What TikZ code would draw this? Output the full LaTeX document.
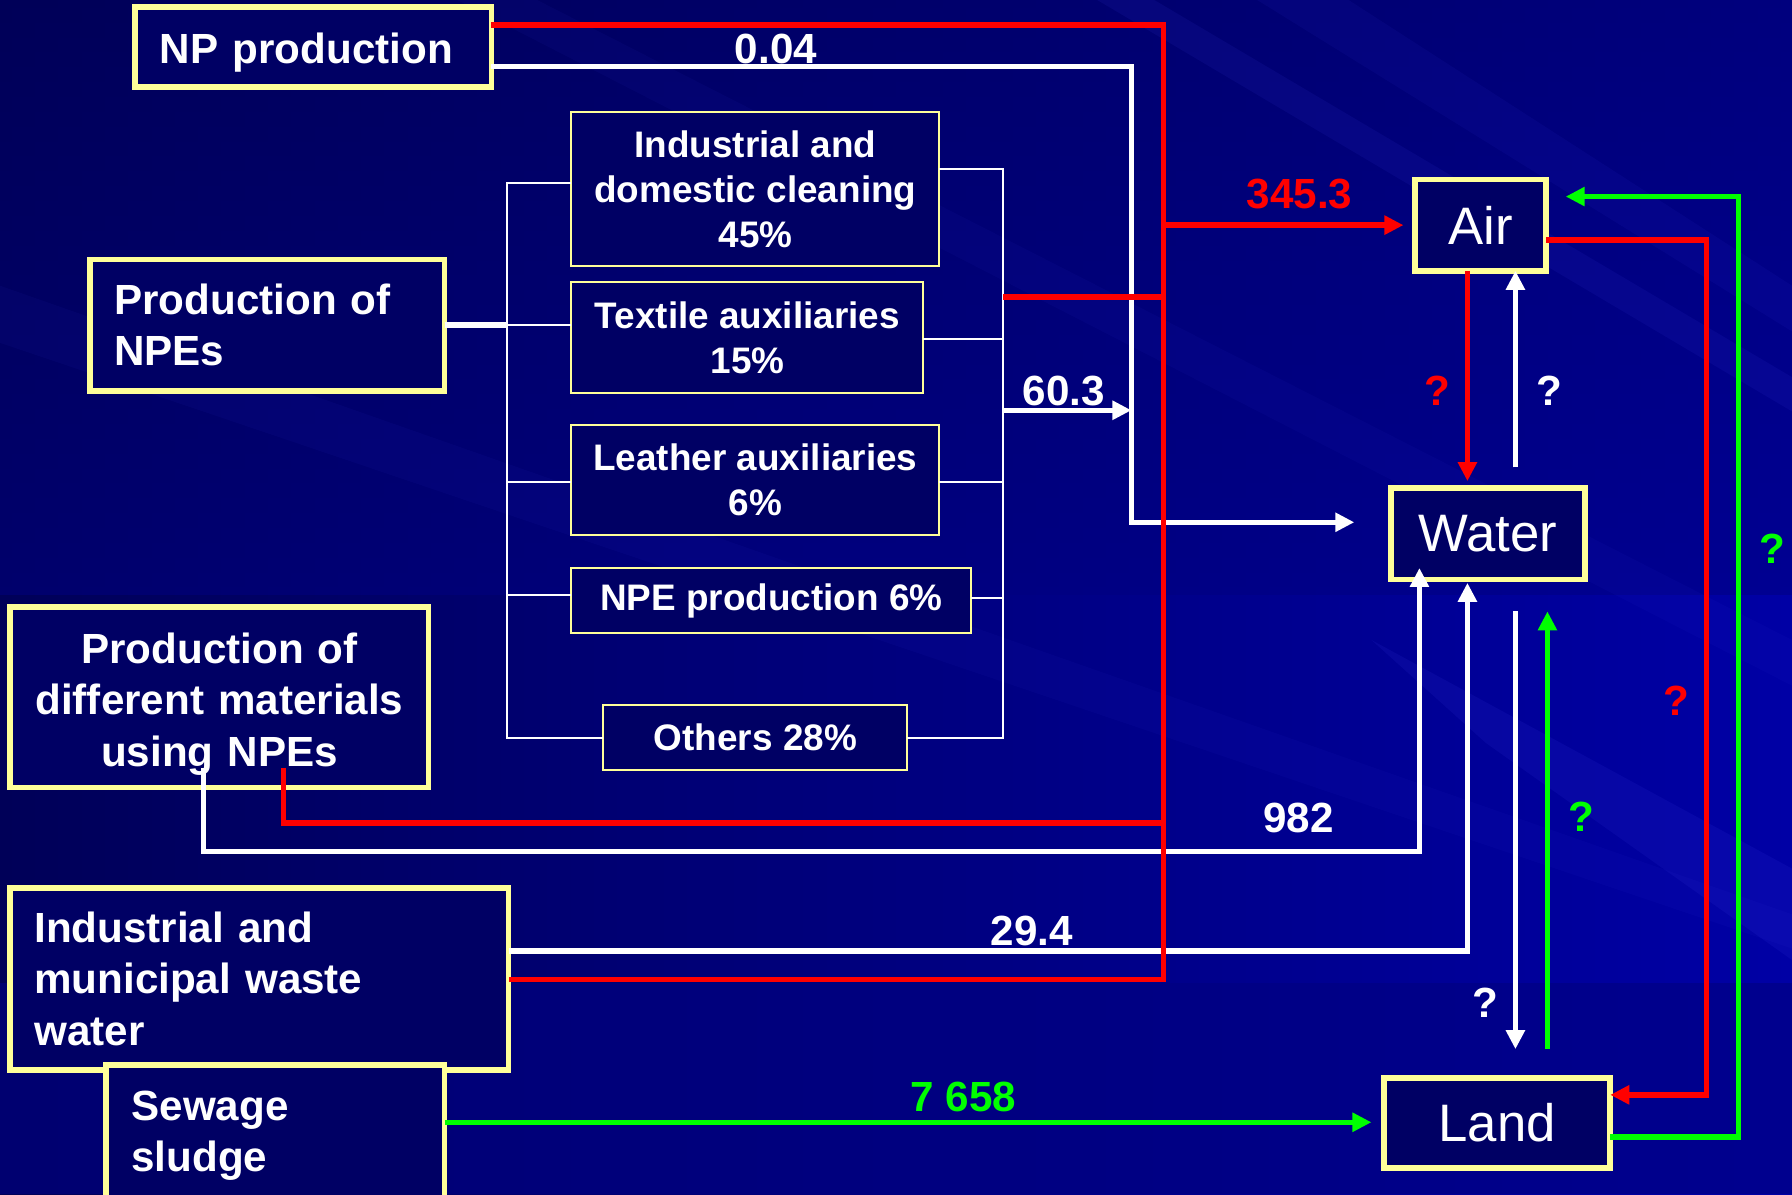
\documentclass[tikz,border=0pt]{standalone}
\usepackage{fontspec}
\setmainfont{Liberation Sans}
\usetikzlibrary{arrows.meta}

\definecolor{bgdark}{RGB}{0,0,88}
\definecolor{bgmid}{RGB}{0,0,128}
\definecolor{bglight}{RGB}{0,0,165}
\definecolor{streak}{RGB}{60,60,230}
\definecolor{boxedge}{RGB}{255,255,153}
\definecolor{boxfill}{RGB}{0,0,100}
\definecolor{flowred}{RGB}{255,0,0}
\definecolor{flowgreen}{RGB}{0,255,0}

\tikzset{
  mainbox/.style={draw=boxedge, line width=1.6pt, fill=boxfill, text=white,
    font=\bfseries\fontsize{12}{14.6}\selectfont, inner ysep=0pt, outer sep=0pt},
  subbox/.style={draw=boxedge, line width=0.55pt, fill=boxfill, text=white,
    font=\bfseries\fontsize{10.5}{12.85}\selectfont, align=center, inner sep=0pt, outer sep=0pt},
  compartment/.style={draw=boxedge, line width=1.6pt, fill=boxfill, text=white,
    font=\fontsize{15}{18}\selectfont, inner sep=0pt, outer sep=0pt},
  flow/.style={line width=1.55pt},
  tie/.style={white, line width=0.6pt},
  tip/.style={-{Triangle[length=5.4pt,width=5.2pt]}},
  lbl/.style={font=\bfseries\fontsize{12}{14}\selectfont, inner sep=0pt},
}

\begin{document}
\begin{tikzpicture}[x=0.0114286cm, y=-0.0114286cm]
  % backdrop
  \clip (0,0) rectangle (1568,1045);
  \useasboundingbox (0,0) rectangle (1568,1045);
  \shade[left color=bgdark, right color=bglight] (0,0) rectangle (1568,1045);
  \shade[top color=bgdark, bottom color=bgmid, opacity=0.5] (0,0) rectangle (1568,520);
  \fill[bgmid, opacity=0.6] (0,860) rectangle (1568,1045);
  \begin{scope}[fill=streak]
    \fill[opacity=0.10] (960,0) -- (1010,0) -- (1568,330) -- (1568,360) -- cycle;
    \fill[opacity=0.08] (1100,0) -- (1180,0) -- (1568,250) -- (1568,290) -- cycle;
    \fill[opacity=0.12] (1200,560) -- (1568,760) -- (1568,840) -- (1300,650) -- cycle;
    \fill[opacity=0.06] (0,250) -- (0,300) -- (1568,830) -- (1568,800) -- cycle;
    \fill[opacity=0.06] (400,0) -- (470,0) -- (1568,560) -- (1568,600) -- cycle;
  \end{scope}

  % source boxes
  \node[mainbox, anchor=center, text width=3.063cm, inner xsep=0.2514cm, minimum height=0.8cm,
        align=left, text height=12pt]
    (np) at (274,41) {NP production};
  \node[mainbox, anchor=center, text width=3.063cm, inner xsep=0.24cm, minimum height=1.3143cm, align=left]
    (npes) at (234,284.5) {Production of\\NPEs};
  \node[mainbox, anchor=center, text width=4.1829cm, minimum height=1.8057cm, inner xsep=0pt,
        align=center, text height=12.6pt]
    (mat) at (192,610) {Production of\\different materials\\using NPEs};
  \node[mainbox, anchor=center, text width=4.5029cm, inner xsep=0.24cm, minimum height=1.8171cm, align=left]
    (ww) at (227,856.5) {Industrial and\\municipal waste\\water};
  \node[mainbox, anchor=center, text width=2.88cm, inner xsep=0.2514cm, minimum height=1.3371cm,
        align=left, text height=10.4pt]
    (sludge) at (241,990.5) {Sewage\\sludge};

  % uses of NPEs
  \node[subbox, minimum width=3.68cm, minimum height=1.5429cm] (cl) at (661,165.5)
    {Industrial and\\domestic cleaning\\45\%};
  \node[subbox, minimum width=3.52cm, minimum height=1.1086cm] (tex) at (654,295.5)
    {Textile auxiliaries\\15\%};
  \node[subbox, minimum width=3.68cm, minimum height=1.0971cm] (lea) at (661,420)
    {Leather auxiliaries\\6\%};
  \node[subbox, minimum width=4.0cm, minimum height=0.6514cm] (npe) at (675,525.5)
    {NPE production 6\%};
  \node[subbox, minimum width=3.04cm, minimum height=0.6514cm] (oth) at (661,645.5)
    {Others 28\%};

  % environmental compartments
  \node[compartment, minimum width=1.3143cm, minimum height=0.9143cm] (air) at (1295.5,197) {Air};
  \node[compartment, minimum width=1.9429cm, minimum height=0.9143cm] (water) at (1302,467) {Water};
  \node[compartment, minimum width=2.2629cm, minimum height=0.9029cm] (land) at (1310,982.5) {Land};

  % bracket joining the uses
  \coordinate (lb) at (444,0);
  \coordinate (rb) at (878,0);
  \draw[white, flow] (npes.east) -- (npes.east -| lb);
  \draw[tie] (cl.west |- 0,160) -| (444,646) -- (oth.west |- 0,646);
  \draw[tie] (npes.east -| lb) -- (npes.east -| tex.west);
  \draw[tie] (444,422) -- (lea.west |- 0,422);
  \draw[tie] (444,521) -- (npe.west |- 0,521);
  \draw[tie] (cl.east |- 0,148) -| (878,646) -- (oth.east |- 0,646);
  \draw[tie] (tex.east |- 0,297) -- (878,297);
  \draw[tie] (lea.east |- 0,422) -- (878,422);
  \draw[tie] (npe.east |- 0,523) -- (878,523);

  % white flows
  \coordinate (matw) at (178,672);
  \coordinate (matr) at (248,672);
  \draw[white, flow, tip] (878,359) -- (990,359);
  \draw[white, flow, tip, shorten >=0.3657cm] (np.east |- 0,58) -| (990,457) -- (water.west |- 0,457);
  \draw[white, flow, tip] (matw) |- (1242,745) -- (water.south -| 1242,0) -- ++(0,-10);
  \draw[white, flow, tip] (ww.east |- 0,832) -| (1284,510);
  \draw[white, flow, tip] (1326,409) -- (air.south -| 1326,0);
  \draw[white, flow, tip] (1326,535) -- (1326,918);

  % red flows
  \draw[flowred, flow] (np.east |- 0,22) -- (1018,22) -- (1018,857) -- (ww.east |- 0,857);
  \draw[flowred, flow] (878,260) -- (1018,260);
  \draw[flowred, flow] (matr) |- (1018,720);
  \draw[flowred, flow, tip, shorten >=0.1143cm] (1018,197) -- (air.west);
  \draw[flowred, flow, tip] (air.south -| 1284,0) -- (1284,421);
  \draw[flowred, flow, tip] (air.east |- 0,210) -| (1493,958) -- (land.east |- 0,958);

  % green flows
  \draw[flowgreen, flow, tip, shorten >=0.1257cm] (sludge.east |- 0,982) -- (land.west |- 0,982);
  \draw[flowgreen, flow, tip] (1354,918) -- (1354,535);
  \draw[flowgreen, flow, tip, shorten >=0.1943cm] (land.east |- 0,995) -| (1521,172) -- (air.east |- 0,172);

  % quantities
  \node[lbl, white] (q004) at (679,43) {0.04};
  \node[lbl, white] (q603) at (931,342) {60.3};
  \node[lbl, flowred] (q345) at (1137,170) {345.3};
  \node[lbl, white] (q982) at (1136,716) {982};
  \node[lbl, white] (q294) at (903,815) {29.4};
  \node[lbl, flowgreen] (q7658) at (843,960) {7 658};
  \node[lbl, flowred] (qaw) at (1258,342) {?};
  \node[lbl, white] (qwa) at (1356,342) {?};
  \node[lbl, white] (qwl) at (1300,877) {?};
  \node[lbl, flowgreen] (qlw) at (1384,715) {?};
  \node[lbl, flowred] (qal) at (1467,613) {?};
  \node[lbl, flowgreen] (qla) at (1551,480) {?};
\end{tikzpicture}
\end{document}
